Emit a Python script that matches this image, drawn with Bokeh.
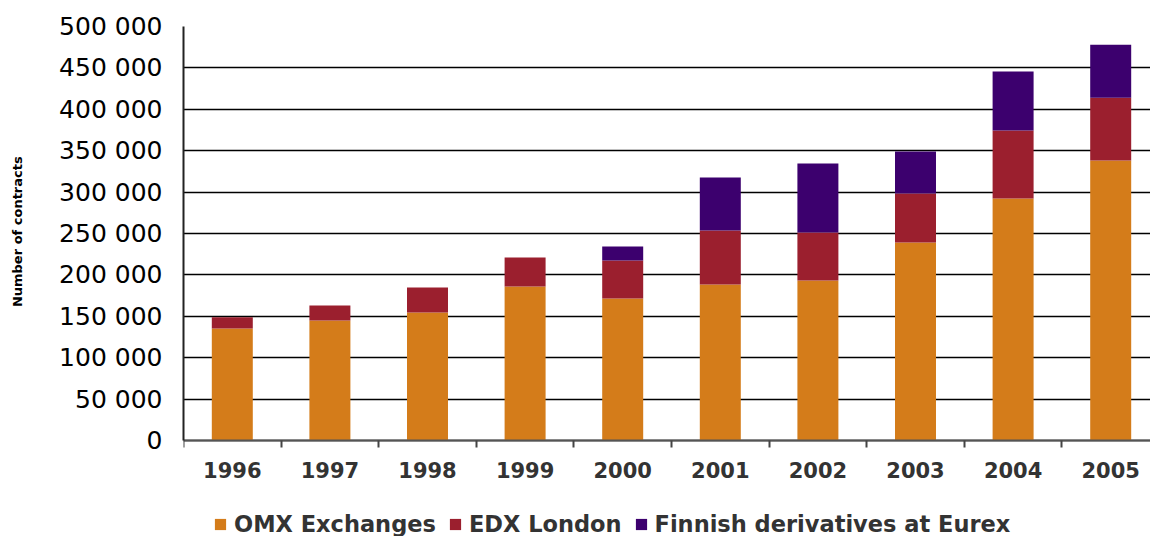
from bokeh.plotting import figure
from bokeh.models import Range1d, FixedTicker, ColumnDataSource, Legend, LegendItem
from bokeh.embed import file_html
from bokeh.resources import INLINE

years = ["1996", "1997", "1998", "1999", "2000", "2001", "2002", "2003", "2004", "2005"]
omx = [135300, 144900, 154600, 186000, 171500, 188400, 193200, 239100, 292300, 338200]
edx = [13600, 18100, 30200, 35000, 45900, 65200, 58000, 59200, 82100, 75800]
eurex = [0, 0, 0, 0, 16900, 64000, 83300, 50700, 71200, 64000]
series_names = ["OMX Exchanges", "EDX London", "Finnish derivatives at Eurex"]
colors = ["#D47C1A", "#9B1F2E", "#3C006E"]
y_ticks = [0, 50000, 100000, 150000, 200000, 250000, 300000, 350000, 400000, 450000, 500000]
y_tick_labels = ["0", "50 000", "100 000", "150 000", "200 000", "250 000", "300 000",
                 "350 000", "400 000", "450 000", "500 000"]
y_title = "Number of contracts"

n = len(years)
centers = [i + 0.5 for i in range(n)]
source = ColumnDataSource(data=dict(x=centers, omx=omx, edx=edx, eurex=eurex))

# layout geometry (pixels): frame from top 26 to bottom of canvas; value axis 0 sits at 440
W, H = 1150, 536
top, zero_px, left = 26, 440, 183
ymax = y_ticks[-1]
ymin = -(H - zero_px) / (zero_px - top) * ymax

p = figure(width=W, height=H, output_backend="svg", toolbar_location=None,
           x_range=Range1d(0, (W - left) / 97.6), y_range=Range1d(ymin, ymax),
           min_border_left=left, min_border_right=0, min_border_top=top, min_border_bottom=0)
p.outline_line_color = None
p.background_fill_color = "white"
p.border_fill_color = "white"

renderers = p.vbar_stack(["omx", "edx", "eurex"], x="x", width=0.42, source=source,
                         color=colors, line_color=None)

# y axis
p.yaxis.bounds = (0, ymax)
p.yaxis.ticker = FixedTicker(ticks=y_ticks)
p.yaxis.major_label_overrides = {t: l for t, l in zip(y_ticks, y_tick_labels)}
p.yaxis.major_label_text_font = "DejaVu Sans"
p.yaxis.major_label_text_font_size = "25px"
p.yaxis.major_label_text_color = "black"
p.yaxis.major_tick_out = 0
p.yaxis.major_tick_in = 0
p.yaxis.minor_tick_out = 0
p.yaxis.minor_tick_in = 0
p.yaxis.major_label_standoff = 21
p.yaxis.axis_line_color = "#222222"
p.yaxis.axis_line_width = 2
# the axis title is centred on the whole frame; leading no-break spaces lift it
# to the middle of the 0..500 000 span, as in the original
p.yaxis.axis_label = "\u00a0" * 22 + y_title
p.yaxis.axis_label_text_font = "DejaVu Sans"
p.yaxis.axis_label_text_font_style = "bold"
p.yaxis.axis_label_text_font_size = "13px"
p.yaxis.axis_label_text_color = "black"
p.yaxis.axis_label_standoff = 31

# x axis, fixed at value 0
p.xaxis.fixed_location = 0
p.xaxis.ticker = FixedTicker(ticks=centers, minor_ticks=list(range(n + 1)))
p.xaxis.major_label_overrides = {c: y for c, y in zip(centers, years)}
p.xaxis.major_label_text_font = "DejaVu Sans"
p.xaxis.major_label_text_font_style = "bold"
p.xaxis.major_label_text_font_size = "21px"
p.xaxis.major_label_text_color = "#333333"
p.xaxis.major_tick_out = 0
p.xaxis.major_tick_in = 0
p.xaxis.minor_tick_out = 7
p.xaxis.minor_tick_in = 0
p.xaxis.minor_tick_line_color = "#444444"
p.xaxis.minor_tick_line_width = 2
p.xaxis.major_label_standoff = 14
p.xaxis.axis_line_color = "#555555"
p.xaxis.axis_line_width = 2

# grid
p.xgrid.grid_line_color = None
p.ygrid.ticker = FixedTicker(ticks=y_ticks)
p.ygrid.grid_line_color = "black"
p.ygrid.grid_line_width = 1.6

legend = Legend(items=[LegendItem(label=nm, renderers=[r]) for nm, r in zip(series_names, renderers)],
                location=(30, -1), orientation="horizontal")
legend.glyph_width = 14
legend.glyph_height = 14
legend.label_standoff = 7
legend.spacing = 12
legend.padding = 0
legend.margin = 0
legend.border_line_color = None
legend.background_fill_alpha = 0
legend.label_text_font = "DejaVu Sans"
legend.label_text_font_style = "bold"
legend.label_text_font_size = "22.5px"
legend.label_text_color = "#333333"
p.add_layout(legend, "center")

open("out.html", "w").write(file_html(p, INLINE))
